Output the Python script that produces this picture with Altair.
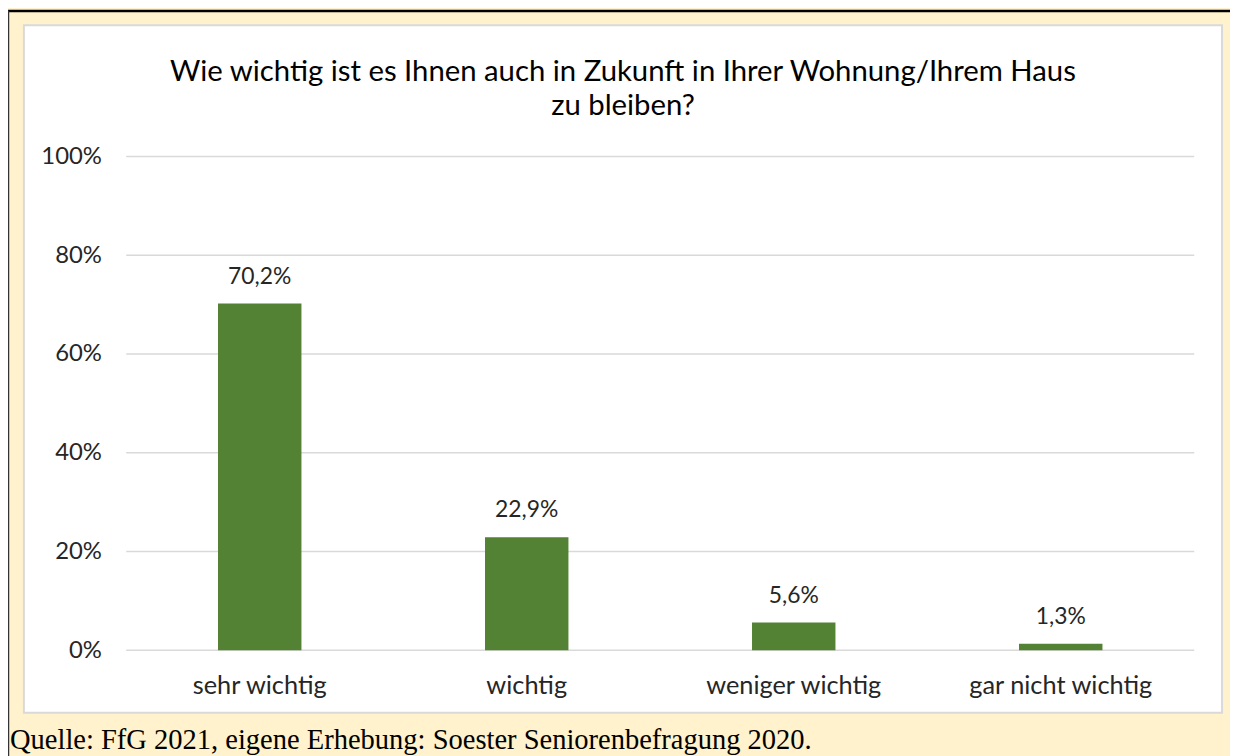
import altair as alt
import pandas as pd

categories = ["sehr wichtig", "wichtig", "weniger wichtig", "gar nicht wichtig"]
values = [0.702, 0.229, 0.056, 0.013]
value_labels = ["70,2%", "22,9%", "5,6%", "1,3%"]
y_ticks = [0, 0.2, 0.4, 0.6, 0.8, 1.0]
title_lines = ["Wie wichtig ist es Ihnen auch in Zukunft in Ihrer Wohnung/Ihrem Haus", "zu bleiben?"]
source_text = "Quelle: FfG 2021, eigene Erhebung: Soester Seniorenbefragung 2020."

FONT = "Lato"
W, H = 1075, 497

df = pd.DataFrame({"cat": categories, "val": values, "lab": value_labels})
grid_df = pd.DataFrame({"t": y_ticks})
one = pd.DataFrame({"k": [0]})

xscale = alt.Scale(paddingInner=0.6875, paddingOuter=0.34375)
yscale = alt.Scale(domain=[0, 1])
axis_style = dict(grid=False, ticks=False, domain=False, zindex=1, labelLimit=400,
                  labelOverlap=False, labelFont=FONT, labelColor="#262626")
xaxis = alt.Axis(labelPadding=24, labelAngle=0, labelFontSize=25.5, **axis_style)
yaxis = alt.Axis(values=y_ticks, format=".0%", labelPadding=25, labelFontSize=24, **axis_style)

panel = alt.Chart(one).mark_rect(fill="white", stroke="#d9d9d9", strokeWidth=2).encode(
    x=alt.value(-103), x2=alt.value(1103), y=alt.value(-132), y2=alt.value(560))
top_line = alt.Chart(one).mark_rule(color="black", strokeWidth=2.5).encode(
    x=alt.value(-119), x2=alt.value(1115), y=alt.value(-146.5))
left_line = alt.Chart(one).mark_rule(color="#333333", strokeWidth=1.5).encode(
    x=alt.value(-118.5), y=alt.value(-147), y2=alt.value(610))
grid = alt.Chart(grid_df).mark_rule(color="#d9d9d9", strokeWidth=1.5).encode(
    y=alt.Y("t:Q", scale=yscale, axis=yaxis, title=None))
bars = alt.Chart(df).mark_bar(color="#548235").encode(
    x=alt.X("cat:N", sort=categories, scale=xscale, axis=xaxis, title=None),
    y=alt.Y("val:Q", scale=yscale, axis=yaxis, title=None))
labels = alt.Chart(df).mark_text(font=FONT, fontSize=23, color="#262626", baseline="middle", dy=-27).encode(
    x=alt.X("cat:N", sort=categories, scale=xscale, axis=xaxis, title=None),
    y=alt.Y("val:Q", scale=yscale, axis=yaxis, title=None),
    text="lab:N")
title1 = alt.Chart(one).mark_text(text=title_lines[0], font=FONT, fontSize=29.5, color="black",
                                  align="center", baseline="middle").encode(
    x=alt.value(500), y=alt.value(-85))
title2 = alt.Chart(one).mark_text(text=title_lines[1], font=FONT, fontSize=29.5, color="black",
                                  align="center", baseline="middle").encode(
    x=alt.value(500), y=alt.value(-51))
source = alt.Chart(one).mark_text(text=source_text, font="Liberation Serif", fontSize=28.7, color="black",
                                  align="left", baseline="middle").encode(
    x=alt.value(-117), y=alt.value(587))

chart = alt.layer(panel, top_line, left_line, grid, bars, labels, title1, title2, source).properties(
    width=W, height=H,
    autosize=alt.AutoSizeParams(type="none"),
    padding={"left": 119, "top": 147, "right": 36, "bottom": 104},
    background="#FFF2CC",
).configure_view(stroke=None)

chart.save("out.html", embed_options={"renderer": "svg", "actions": False})
